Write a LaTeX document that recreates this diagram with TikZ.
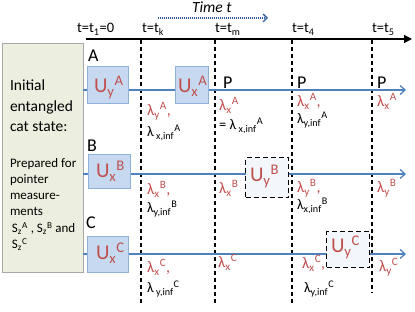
\documentclass[tikz,border=0pt]{standalone}
\usepackage{fontspec}
\setmainfont{Carlito}
\usetikzlibrary{arrows.meta}
\definecolor{myred}{HTML}{C0504D}
\definecolor{boxfill}{HTML}{C6D9F0}
\definecolor{boxborder}{HTML}{8EB1DA}
\definecolor{lineblue}{HTML}{4F81BD}
\definecolor{greenfill}{HTML}{ECEFDF}
\definecolor{greenborder}{HTML}{A8A8A8}
\definecolor{dboxfill}{HTML}{F3F6FA}
\definecolor{timeblue}{HTML}{2F5F9E}
\newcommand{\dn}[1]{\textsubscript{#1}}
\newcommand{\up}[1]{\textsuperscript{#1}}
\begin{document}
\begin{tikzpicture}[x=1pt,y=-1pt,
  txt/.style={anchor=base west, inner sep=0pt, outer sep=0pt},
  bigtxt/.style={txt, font=\fontsize{15.5}{18}\selectfont},
  smalltxt/.style={txt, font=\fontsize{13}{15}\selectfont},
  ttxt/.style={txt, font=\fontsize{14.5}{16}\selectfont},
  abc/.style={txt, font=\fontsize{18}{20}\selectfont},
  ulab/.style={txt, text=myred, font=\fontsize{21}{23}\selectfont},
  redlab/.style={txt, text=myred, font=\fontsize{16}{18}\selectfont},
  blklab/.style={txt, text=black, font=\fontsize{14.5}{16}\selectfont},
  ubox/.style={draw=boxborder, fill=boxfill, line width=0.8pt, inner sep=0pt, anchor=north west},
  dbox/.style={draw=black, fill=dboxfill, line width=1.3pt, dash pattern=on 5pt off 3pt, inner sep=0pt, anchor=north west},
  rowline/.style={draw=lineblue, line width=1.5pt, -{Straight Barb[length=5pt,width=9pt,line width=1.3pt]}},
  tline/.style={draw=black, line width=1.2pt, dash pattern=on 4pt off 3pt},
  axisline/.style={draw=black, line width=1.6pt, -{Triangle[length=8pt,width=8pt]}},
  timearrow/.style={draw=timeblue, line width=1.5pt, dash pattern=on 1pt off 1pt, -{Straight Barb[length=4pt,width=8pt,line width=1.3pt]}}
]
\useasboundingbox (0,0) rectangle (415,312);

% coordinates
\coordinate (ax0) at (86,39);
\coordinate (ax1) at (412,39);
\coordinate (ta0) at (158,18);
\coordinate (ta1) at (268,18);
\coordinate (kT) at (141,40);  \coordinate (kB) at (141,305);
\coordinate (mT) at (215,40);  \coordinate (mB) at (215,305);
\coordinate (fT) at (292,40);  \coordinate (fB) at (292,305);
\coordinate (gT) at (372,40);  \coordinate (gB) at (372,293);
\coordinate (aS) at (83,90);   \coordinate (aE) at (406,90);
\coordinate (bS) at (83,174);  \coordinate (bE) at (406,174);
\coordinate (cS) at (83,254);  \coordinate (cE) at (406,254);

% green box
\node[draw=greenborder, fill=greenfill, line width=0.9pt, anchor=north west,
      minimum width=81, minimum height=229, inner sep=0pt] (init) at (2,43) {};

% axis and time arrow
\draw[axisline] (ax0) -- (ax1);
\draw[timearrow] (ta0) -- (ta1);
\node[txt, font=\itshape\fontsize{15.5}{17}\selectfont] (timet) at (192,13) {Time t};

% time labels
\node[ttxt] (t1) at (77,33) {t=t\dn{1}=0};
\node[ttxt] (tk) at (142,33) {t=t\dn{k}};
\node[ttxt] (tm) at (215,33) {t=t\dn{m}};
\node[ttxt] (t4) at (292,33) {t=t\dn{4}};
\node[ttxt] (t5) at (372,33) {t=t\dn{5}};

% dashed time lines
\draw[tline] (kT) -- (kB);
\draw[tline] (mT) -- (mB);
\draw[tline] (fT) -- (fB);
\draw[tline] (gT) -- (gB);

% row lines
\draw[rowline] (aS) -- (aE);
\draw[rowline] (bS) -- (bE);
\draw[rowline] (cS) -- (cE);

% boxes
\node[ubox, minimum width=41, minimum height=37] (uyA) at (87,66) {};
\node[ubox, minimum width=33, minimum height=37] (uxA) at (175,66) {};
\node[ubox, minimum width=42, minimum height=34] (uxB) at (88,154) {};
\node[dbox, minimum width=43, minimum height=40] (uyB) at (245,157) {};
\node[ubox, minimum width=41, minimum height=36] (uxC) at (87,236) {};
\node[dbox, minimum width=43, minimum height=36] (uyC) at (326,231) {};

% box labels
\node[ulab] (luyA) at (94,93) {U\dn{y}\up{A}};
\node[ulab] (luxA) at (178,93) {U\dn{x}\up{A}};
\node[ulab] (luxB) at (96,178) {U\dn{x}\up{B}};
\node[ulab] (luyB) at (250,182) {U\dn{y}\up{B}};
\node[ulab] (luxC) at (96,260) {U\dn{x}\up{C}};
\node[ulab] (luyC) at (331,253) {U\dn{y}\up{C}};

% row letters
\node[abc] (la) at (88,62) {A};
\node[abc] (lb) at (87,152) {B};
\node[abc] (lc) at (86,229) {C};
\node[abc] (p1) at (223,89) {P};
\node[abc] (p2) at (297,89) {P};
\node[abc] (p3) at (377,89) {P};

% green box text
\node[bigtxt] (g1) at (10,91) {Initial};
\node[bigtxt] (g2) at (10,112) {entangled};
\node[bigtxt] (g3) at (10,132) {cat state:};
\node[smalltxt] (s1) at (10,168) {Prepared for};
\node[smalltxt] (s2) at (10,184) {pointer};
\node[smalltxt] (s3) at (10,200) {measure-};
\node[smalltxt] (s4) at (10,216) {ments};
\node[smalltxt] (s5) at (12,233) {S\dn{z}\up{A} , S\dn{z}\up{B} and};
\node[smalltxt] (s6) at (12,249) {S\dn{z}\up{C}};

% row A labels
\node[redlab] (a1) at (147,116) {λ\dn{y}\up{A},};
\node[blklab] (a2) at (147,137) {λ\,\dn{x,inf}\up{A}};
\node[redlab] (a3) at (219,111) {λ\dn{x}\up{A}};
\node[blklab] (a4) at (219,130) {= λ\,\dn{x,inf}\up{A}};
\node[redlab] (a5) at (297,107) {λ\dn{x}\up{A},};
\node[blklab] (a6) at (297,124) {λ\dn{y,inf}\up{A}};
\node[redlab] (a7) at (377,107) {λ\dn{x}\up{A}};

% row B labels
\node[redlab] (b1) at (147,195) {λ\dn{x}\up{B},};
\node[blklab] (b2) at (147,213) {λ\dn{y,inf}\up{B}};
\node[redlab] (b3) at (219,194) {λ\dn{x}\up{B}};
\node[redlab] (b4) at (297,193) {λ\dn{y}\up{B},};
\node[blklab] (b5) at (297,210) {λ\dn{x,inf}\up{B}};
\node[redlab] (b6) at (377,193) {λ\dn{y}\up{B}};

% row C labels
\node[redlab] (c1) at (147,273) {λ\dn{x}\up{C},};
\node[blklab] (c2) at (147,293) {λ\,\dn{y,inf}\up{C}};
\node[redlab] (c3) at (218,268) {λ\dn{x}\up{C}};
\node[redlab] (c4) at (302,269) {λ\dn{x}\up{C},};
\node[blklab] (c5) at (304,293) {λ\dn{y,inf}\up{C}};
\node[redlab] (c6) at (379,272) {λ\dn{y}\up{C}};
\end{tikzpicture}
\end{document}
